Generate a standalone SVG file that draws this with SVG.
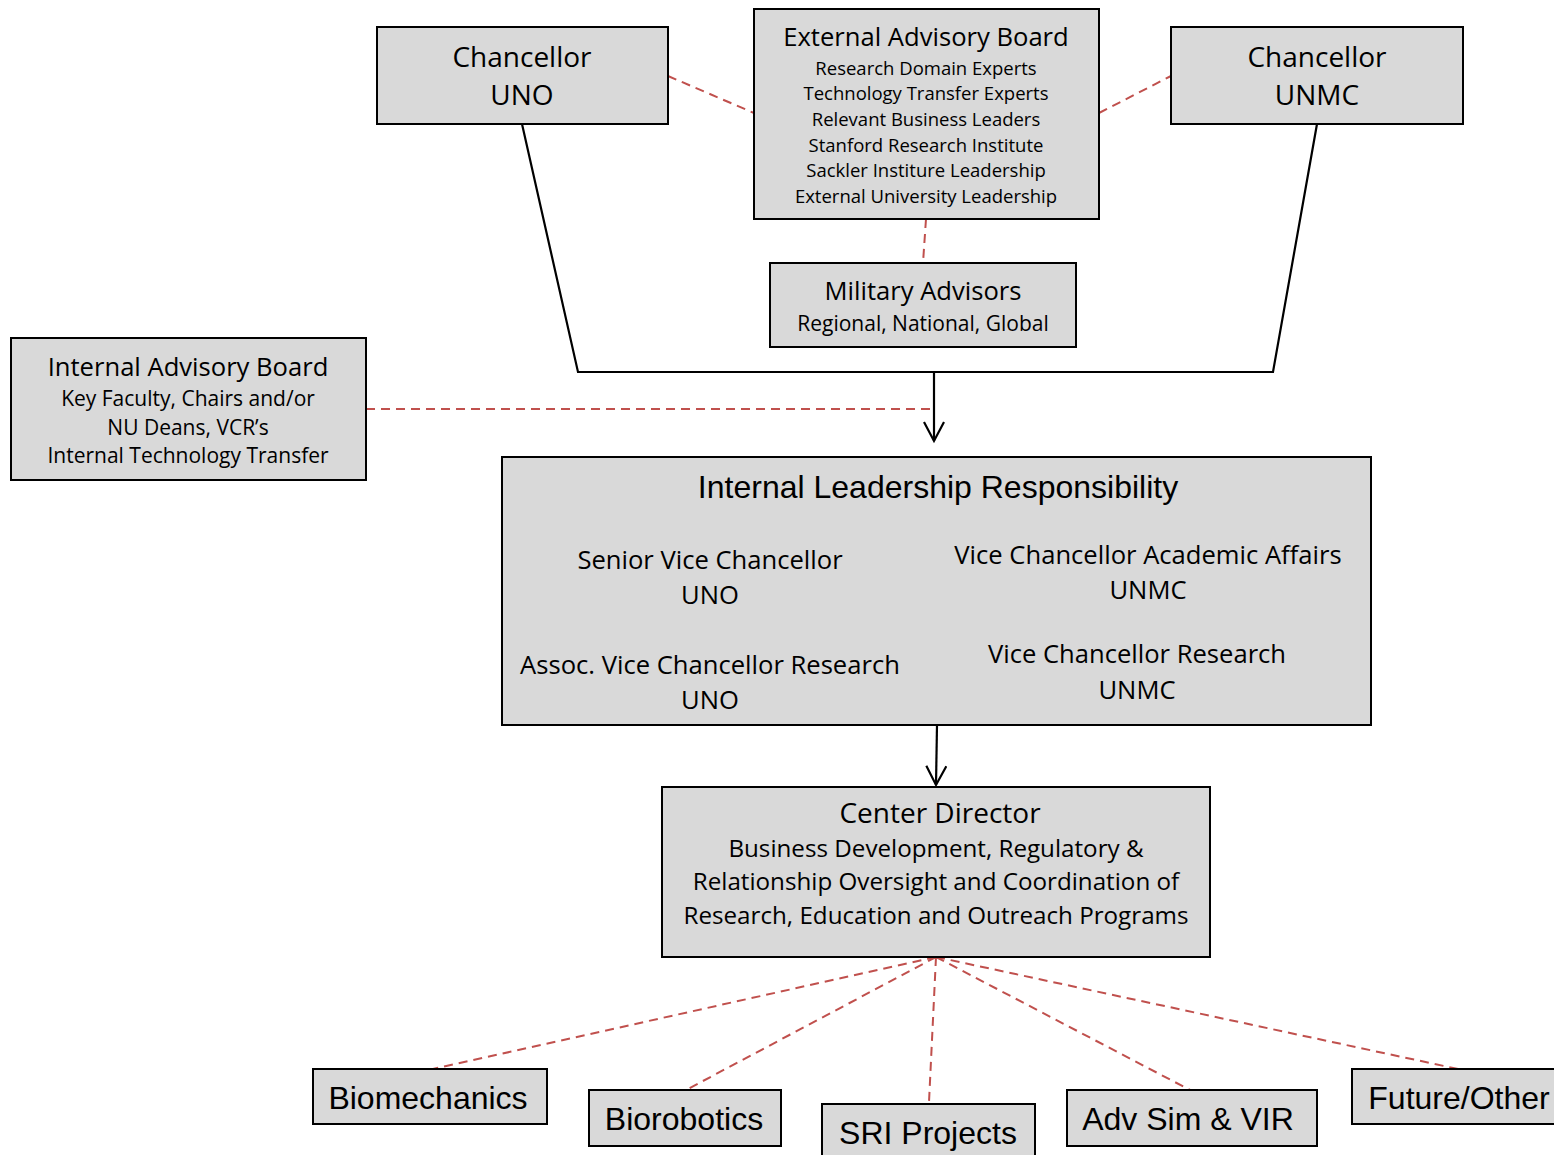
<svg xmlns="http://www.w3.org/2000/svg" width="1554" height="1155" viewBox="0 0 1554 1155">
<style>
.box{fill:#d9d9d9;stroke:#000;stroke-width:2}
.c{font-family:"Open Sans","Noto Sans",sans-serif;text-anchor:middle;fill:#000}
.a{font-family:"Liberation Sans",Arial,sans-serif;text-anchor:middle;fill:#000;font-size:32px}
.t1{font-size:28px}
.t2{font-size:25.6px}
.s1{font-size:18.5px}
.s2{font-size:21px}
.s3{font-size:24.2px}
.solid{stroke:#000;stroke-width:2.2;fill:none}
.dash{stroke:#c0504d;stroke-width:2;fill:none;stroke-dasharray:9 6}
</style>
<defs>
<marker id="arr" markerWidth="24" markerHeight="24" refX="20" refY="11" orient="auto" markerUnits="userSpaceOnUse">
<path d="M1,1 L20,11 L1,21" fill="none" stroke="#000" stroke-width="2.2"/>
</marker>
</defs>
<g id="connectors">
<path class="solid" d="M522,124 L578,372 L1273,372 L1317,124"/>
<path class="solid" d="M934,372 L934,441" marker-end="url(#arr)"/>
<path class="solid" d="M937,725 L936,785" marker-end="url(#arr)"/>
<path class="dash" d="M668,76 L754,113"/>
<path class="dash" d="M1099,113 L1171,76"/>
<path class="dash" d="M926,219 L923,263"/>
<path class="dash" d="M366,409 L934,409"/>
<path class="dash" d="M936,957 L433,1069"/>
<path class="dash" d="M936,957 L686,1090"/>
<path class="dash" d="M936,957 L929,1102"/>
<path class="dash" d="M936,957 L1190,1090"/>
<path class="dash" d="M936,957 L1458,1069"/>
</g>
<g id="chancellor-uno">
<rect class="box" x="377" y="27" width="291" height="97"/>
<text class="c t1" x="522" y="67">Chancellor</text>
<text class="c t1" x="522" y="105">UNO</text>
</g>
<g id="external-advisory-board">
<rect class="box" x="754" y="9" width="345" height="210"/>
<text class="c t2" x="926" y="46">External Advisory Board</text>
<text class="c s1" x="926" y="75">Research Domain Experts</text>
<text class="c s1" x="926" y="100">Technology Transfer Experts</text>
<text class="c s1" x="926" y="126">Relevant Business Leaders</text>
<text class="c s1" x="926" y="152">Stanford Research Institute</text>
<text class="c s1" x="926" y="177">Sackler Institure Leadership</text>
<text class="c s1" x="926" y="203">External University Leadership</text>
</g>
<g id="chancellor-unmc">
<rect class="box" x="1171" y="27" width="292" height="97"/>
<text class="c t1" x="1317" y="67">Chancellor</text>
<text class="c t1" x="1317" y="105">UNMC</text>
</g>
<g id="military-advisors">
<rect class="box" x="770" y="263" width="306" height="84"/>
<text class="c t2" x="923" y="300">Military Advisors</text>
<text class="c s2" x="923" y="331">Regional, National, Global</text>
</g>
<g id="internal-advisory-board">
<rect class="box" x="11" y="338" width="355" height="142"/>
<text class="c t2" x="188" y="376">Internal Advisory Board</text>
<text class="c s2" x="188" y="406">Key Faculty, Chairs and/or</text>
<text class="c s2" x="188" y="435">NU Deans, VCR’s</text>
<text class="c s2" x="188" y="463">Internal Technology Transfer</text>
</g>
<g id="internal-leadership">
<rect class="box" x="502" y="457" width="869" height="268"/>
<text class="a" x="938" y="498">Internal Leadership Responsibility</text>
<text class="c t2" x="710" y="569">Senior Vice Chancellor</text>
<text class="c t2" x="710" y="604">UNO</text>
<text class="c t2" x="1148" y="564">Vice Chancellor Academic Affairs</text>
<text class="c t2" x="1148" y="599">UNMC</text>
<text class="c t2" x="710" y="674">Assoc. Vice Chancellor Research</text>
<text class="c t2" x="710" y="709">UNO</text>
<text class="c t2" x="1137" y="663">Vice Chancellor Research</text>
<text class="c t2" x="1137" y="699">UNMC</text>
</g>
<g id="center-director">
<rect class="box" x="662" y="787" width="548" height="170"/>
<text class="c t1" x="940" y="823">Center Director</text>
<text class="c s3" x="936" y="857">Business Development, Regulatory &amp;</text>
<text class="c s3" x="936" y="890">Relationship Oversight and Coordination of</text>
<text class="c s3" x="936" y="924">Research, Education and Outreach Programs</text>
</g>
<g id="biomechanics">
<rect class="box" x="313" y="1069" width="234" height="55"/>
<text class="a" x="428" y="1109">Biomechanics</text>
</g>
<g id="biorobotics">
<rect class="box" x="589" y="1090" width="192" height="56"/>
<text class="a" x="684" y="1130">Biorobotics</text>
</g>
<g id="sri-projects">
<rect class="box" x="822" y="1104" width="213" height="60"/>
<text class="a" x="928" y="1144">SRI Projects</text>
</g>
<g id="adv-sim-vir">
<rect class="box" x="1067" y="1090" width="250" height="56"/>
<text class="a" x="1188" y="1130">Adv Sim &amp; VIR</text>
</g>
<g id="future-other">
<rect class="box" x="1352" y="1069" width="210" height="55"/>
<text class="a" x="1459" y="1109">Future/Other</text>
</g>
</svg>
